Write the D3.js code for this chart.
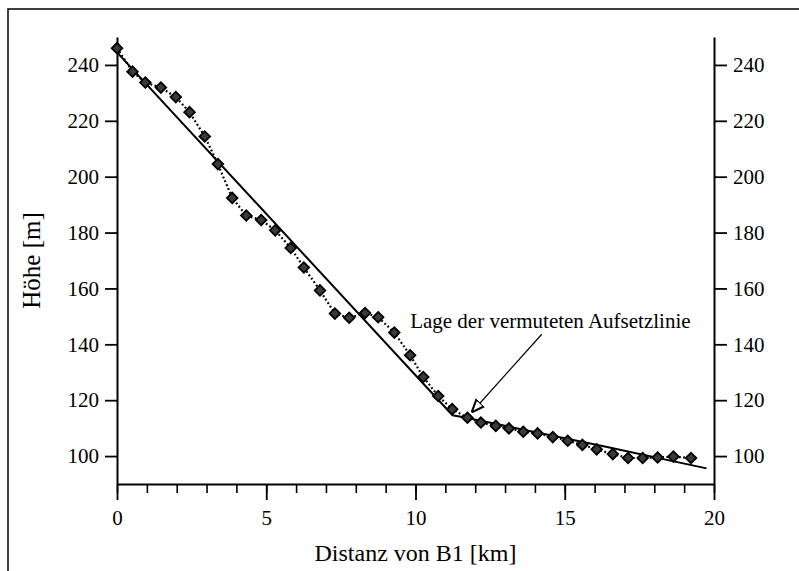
<!DOCTYPE html>
<html>
<head>
<meta charset="utf-8">
<script src="https://cdn.jsdelivr.net/npm/d3@7"></script>
<style>
  body { margin: 0; background: #fff; }
  svg, svg text { font-family: "Liberation Serif", "Times New Roman", "DejaVu Serif", serif; }
</style>
</head>
<body>
<div id="chart"></div>
<script>
// measured profile (markers + dotted line)
const distKm = [0, 0.52, 0.95, 1.47, 1.97, 2.43, 2.94, 3.38, 3.86, 4.33, 4.83, 5.30, 5.82, 6.26, 6.80,
  7.30, 7.78, 8.31, 8.75, 9.29, 9.82, 10.26, 10.76, 11.23, 11.74, 12.19, 12.69, 13.13, 13.61, 14.09,
  14.60, 15.10, 15.59, 16.07, 16.61, 17.12, 17.61, 18.11, 18.64, 19.23];
const heightM = [246, 237.6, 233.7, 231.9, 228.5, 223.1, 214.4, 204.5, 192.4, 186.1, 184.5, 180.8, 174.5, 167.5, 159.3,
  151.0, 149.5, 151.2, 149.7, 144.2, 136.1, 128.3, 121.5, 116.8, 113.7, 112.0, 110.8, 109.9, 108.7, 108.1,
  106.8, 105.5, 104.0, 102.4, 100.7, 99.3, 99.3, 99.5, 99.8, 99.3];

// solid line (model profile)
const fitKm = [0, 11.24, 11.66, 16.3, 19.75];
const fitM = [244.5, 114.6, 113.8, 103.5, 95.6];

// ticks
const xTicks = [0, 5, 10, 15, 20];
const xMinorTicks = d3.range(0, 21, 1);
const yTicks = [100, 120, 140, 160, 180, 200, 220, 240];

// annotation: label position and arrow (data units)
const noteText = "Lage der vermuteten Aufsetzlinie";
const notePos = [9.82, 146];
const arrowFrom = [14.23, 143.6];
const arrowTo = [11.88, 115.6];

const width = 799, height = 571;
const margin = {top: 37, right: 85, bottom: 87, left: 117};
const innerW = width - margin.left - margin.right;
const innerH = height - margin.top - margin.bottom;
const serif = '"Liberation Serif", "Times New Roman", serif';

const svg = d3.select('#chart').append('svg')
  .attr('width', width)
  .attr('height', height);

// outer frame (top and left edges only, like the scan)
svg.append('path')
  .attr('d', `M8,${height} L8,9 L${width},9`)
  .attr('fill', 'none')
  .attr('stroke', '#000')
  .attr('stroke-width', 1.5);

const g = svg.append('g').attr('transform', `translate(${margin.left},${margin.top})`);

const x = d3.scaleLinear().domain([0, 20]).range([0, innerW]);
const y = d3.scaleLinear().domain([90, 250]).range([innerH, 0]);

const tickFont = 21;

function styleAxis(a) {
  a.attr('font-family', serif);
  a.select('.domain').attr('stroke-width', 2);
  a.selectAll('.tick line').attr('stroke-width', 1.8);
  a.selectAll('.tick text').attr('font-size', tickFont).attr('font-family', serif).attr('fill', '#000');
}

// bottom axis: minor ticks
g.append('g')
  .attr('transform', `translate(0,${innerH})`)
  .call(d3.axisBottom(x).tickValues(xMinorTicks).tickSize(9).tickFormat(''))
  .call(a => a.select('.domain').remove())
  .call(a => a.selectAll('.tick line').attr('stroke-width', 1.6));

// bottom axis: major ticks + labels
g.append('g')
  .attr('transform', `translate(0,${innerH})`)
  .call(d3.axisBottom(x).tickValues(xTicks).tickSize(16).tickPadding(10).tickSizeOuter(0))
  .call(styleAxis);

// left axis
g.append('g')
  .call(d3.axisLeft(y).tickValues(yTicks).tickSize(12).tickPadding(6).tickSizeOuter(0))
  .call(styleAxis);

// right axis
g.append('g')
  .attr('transform', `translate(${innerW},0)`)
  .call(d3.axisRight(y).tickValues(yTicks).tickSize(13).tickPadding(6).tickSizeOuter(0))
  .call(styleAxis);

// axis titles
svg.append('text')
  .attr('x', margin.left + innerW / 2)
  .attr('y', 561)
  .attr('text-anchor', 'middle')
  .attr('font-family', serif)
  .attr('font-size', 24)
  .text('Distanz von B1 [km]');

svg.append('text')
  .attr('transform', `translate(40,${margin.top + y(170)}) rotate(-90)`)
  .attr('text-anchor', 'middle')
  .attr('font-family', serif)
  .attr('font-size', 25)
  .text('Höhe [m]');

// solid profile line
const fitData = fitKm.map((d, i) => [d, fitM[i]]);
g.append('path')
  .datum(fitData)
  .attr('fill', 'none')
  .attr('stroke', '#000')
  .attr('stroke-width', 2)
  .attr('d', d3.line().x(d => x(d[0])).y(d => y(d[1])));

// dotted measured line
const measData = distKm.map((d, i) => [d, heightM[i]]);
g.append('path')
  .datum(measData)
  .attr('fill', 'none')
  .attr('stroke', '#000')
  .attr('stroke-width', 2.2)
  .attr('stroke-dasharray', '1.8,2.4')
  .attr('d', d3.line().x(d => x(d[0])).y(d => y(d[1])));

// diamond markers
g.selectAll('.marker')
  .data(measData)
  .join('path')
  .attr('class', 'marker')
  .attr('transform', d => `translate(${x(d[0])},${y(d[1])}) rotate(45)`)
  .attr('d', d3.symbol(d3.symbolSquare, 56))
  .attr('fill', '#3a3a3a')
  .attr('stroke', '#000')
  .attr('stroke-width', 1.8);

// annotation
const defs = svg.append('defs');
defs.append('marker')
  .attr('id', 'arrowhead')
  .attr('viewBox', '0 0 10 10')
  .attr('refX', 10)
  .attr('refY', 5)
  .attr('markerWidth', 13)
  .attr('markerHeight', 13)
  .attr('markerUnits', 'userSpaceOnUse')
  .attr('orient', 'auto')
  .append('path')
  .attr('d', 'M0,1 L10,5 L0,9 Z')
  .attr('fill', '#fff')
  .attr('stroke', '#000')
  .attr('stroke-width', 1.6);

g.append('line')
  .attr('x1', x(arrowFrom[0]))
  .attr('y1', y(arrowFrom[1]))
  .attr('x2', x(arrowTo[0]))
  .attr('y2', y(arrowTo[1]))
  .attr('stroke', '#000')
  .attr('stroke-width', 1.2)
  .attr('marker-end', 'url(#arrowhead)');

g.append('text')
  .attr('x', x(notePos[0]))
  .attr('y', y(notePos[1]))
  .attr('font-family', serif)
  .attr('font-size', 21)
  .text(noteText);
</script>
</body>
</html>
